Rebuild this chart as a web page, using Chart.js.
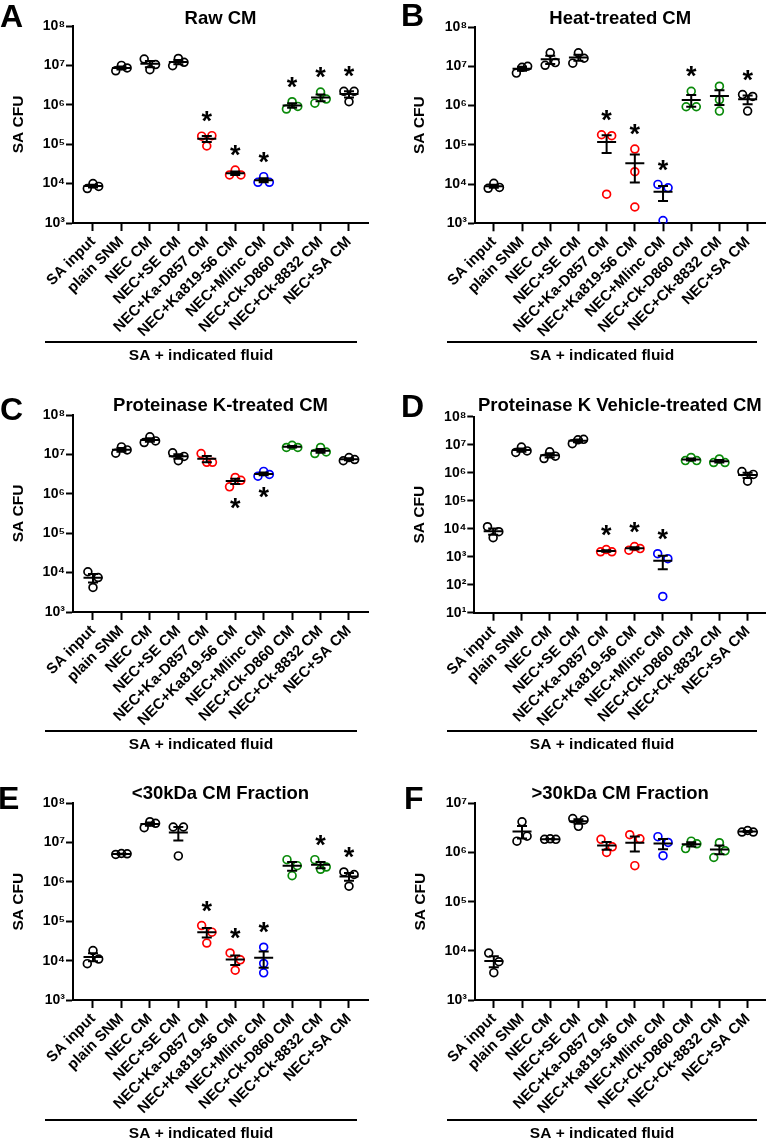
<!DOCTYPE html>
<html><head><meta charset="utf-8">
<script src="https://cdn.jsdelivr.net/npm/chart.js@4.4.1/dist/chart.umd.min.js"></script>
<style>
html,body{margin:0;padding:0;background:#fff;}
body{width:771px;height:1140px;position:relative;overflow:hidden;}
canvas{position:absolute;display:block;}
</style></head><body>
<canvas id="cA" width="385" height="389" style="left:0;top:0"></canvas>
<canvas id="cB" width="386" height="389" style="left:385px;top:0"></canvas>
<canvas id="cC" width="385" height="388" style="left:0;top:389px"></canvas>
<canvas id="cD" width="386" height="388" style="left:385px;top:389px"></canvas>
<canvas id="cE" width="385" height="363" style="left:0;top:777px"></canvas>
<canvas id="cF" width="386" height="363" style="left:385px;top:777px"></canvas>
<script>
// ---------------- DATA ----------------
const categories = ['SA input','plain SNM','NEC CM','NEC+SE CM','NEC+Ka-D857 CM','NEC+Ka819-56 CM','NEC+Mlinc CM','NEC+Ck-D860 CM','NEC+Ck-8832 CM','NEC+SA CM'];
const groupColors = ['black','black','black','black','red','red','blue','green','green','black'];
const xAxisTitle = 'SA + indicated fluid';
const yAxisTitle = 'SA CFU';

const ticks3to8 = [1e3,1e4,1e5,1e6,1e7,1e8];
const ticks1to8 = [1e1,1e2,1e3,1e4,1e5,1e6,1e7,1e8];
const ticks3to7 = [1e3,1e4,1e5,1e6,1e7];

const rawCM = [[7.5e3,1.0e4,8.5e3],[7.3e6,1.0e7,8.6e6],[1.45e7,7.8e6,1.05e7],[9.8e6,1.5e7,1.2e7],[1.6e5,9.0e4,1.65e5],[1.66e4,2.2e4,1.66e4],[1.08e4,1.5e4,1.08e4],[7.8e5,1.2e6,9.1e5],[1.1e6,2.1e6,1.4e6],[2.2e6,1.2e6,2.2e6]];
const rawStars = [0,0,0,0,1,1,1,1,1,1];

const heatCM = [[7.8e3,1.04e4,8.2e3],[6.7e6,9.4e6,1.0e7],[1.06e7,2.2e7,1.24e7],[1.2e7,2.2e7,1.6e7],[1.8e5,5.5e3,1.7e5],[7.8e4,2.06e4,2.6e3],[9.8e3,1.17e3,8.0e3],[9.3e5,2.3e6,9.3e5],[3.1e6,1.4e6,7.2e5],[1.9e6,7.2e5,1.7e6]];
const heatStars = [0,0,0,0,1,1,1,1,0,1];

const protKCM = [[1.05e4,4.2e3,7.5e3],[1.07e7,1.55e7,1.3e7],[2.0e7,2.8e7,2.2e7],[1.1e7,6.9e6,8.9e6],[1.05e7,6.3e6,6.3e6],[1.5e6,2.6e6,2.2e6],[2.8e6,3.7e6,3.1e6],[1.5e7,1.7e7,1.5e7],[1.05e7,1.5e7,1.15e7],[6.9e6,8.3e6,7.4e6]];
const protKStars = [0,0,0,0,0,-1,-1,0,0,0];

const vehicleCM = [[1.18e4,4.8e3,7.8e3],[5.3e6,8.2e6,6.0e6],[3.2e6,5.6e6,3.9e6],[1.09e7,1.5e7,1.55e7],[1.5e3,1.8e3,1.5e3],[1.7e3,2.3e3,1.95e3],[1.28e3,38,850],[2.7e6,3.5e6,2.7e6],[2.3e6,3.1e6,2.3e6],[1.1e6,5.0e5,8.7e5]];
const vehicleStars = [0,0,0,0,1,1,1,0,0,0];

const below30 = [[8.4e3,1.8e4,1.1e4],[5.0e6,5.3e6,5.2e6],[2.4e7,3.4e7,3.1e7],[2.5e7,4.6e6,2.5e7],[7.8e4,2.8e4,5.3e4],[1.57e4,1.05e4,5.7e3],[2.2e4,8.5e3,4.9e3],[3.7e6,1.45e6,2.6e6],[3.7e6,2.1e6,2.4e6],[1.8e6,7.8e5,1.55e6]];
const below30Stars = [0,0,0,0,1,1,1,0,1,1];

const above30 = [[9.0e3,6.0e3,3.6e3],[1.7e6,4.2e6,2.15e6],[1.85e6,1.9e6,1.85e6],[4.9e6,3.4e6,4.6e6],[1.85e6,1.0e6,1.3e6],[2.3e6,5.4e5,1.9e6],[2.1e6,8.6e5,1.6e6],[1.2e6,1.7e6,1.5e6],[7.9e5,1.58e6,1.08e6],[2.6e6,2.8e6,2.6e6]];
const above30Stars = [0,0,0,0,0,0,0,0,0,0];

// ---------------- RENDERING ----------------
const FONT = "'Liberation Sans', Arial, Helvetica, sans-serif";
const COLORS = {black:'#000000', red:'#ff0000', blue:'#0000ff', green:'#0a8a0a'};
const SUP = {'0':'\u2070','1':'\u00b9','2':'\u00b2','3':'\u00b3','4':'\u2074','5':'\u2075','6':'\u2076','7':'\u2077','8':'\u2078','9':'\u2079'};
function supLabel(v){ const e = Math.round(Math.log10(v)); return '10' + String(e).split('').map(c=>SUP[c]).join(''); }

function jitterOffsets(vals, pxPerDec){
  const n = vals.length, ys = vals.map(v=>Math.log10(v)*pxPerDec);
  const parent = vals.map((_,i)=>i);
  const find = i => parent[i]===i ? i : (parent[i]=find(parent[i]));
  for(let i=0;i<n;i++) for(let j=i+1;j<n;j++) if(Math.abs(ys[i]-ys[j])<9) parent[find(i)] = find(j);
  const groups = {};
  vals.forEach((_,i)=>{ const r=find(i); (groups[r]=groups[r]||[]).push(i); });
  const off = new Array(n).fill(0);
  Object.values(groups).forEach(g=>{
    const spread = g.length===2 ? [-0.18,0.18] : g.length===3 ? [-0.2,0,0.2] : [0];
    g.forEach((idx,k)=>{ off[idx] = spread[k]; });
  });
  return off;
}

const extrasPlugin = {
  id:'extras',
  afterDatasetsDraw(chart, args, o){
    const ctx = chart.ctx, xs = chart.scales.x, ys = chart.scales.y;
    ctx.save();
    ctx.strokeStyle = '#000'; ctx.lineWidth = 2; ctx.lineCap = 'butt';
    o.groups.forEach((vals,i)=>{
      const n = vals.length;
      const mean = vals.reduce((a,b)=>a+b,0)/n;
      const sd = Math.sqrt(vals.reduce((a,b)=>a+(b-mean)*(b-mean),0)/(n-1));
      const sem = sd/Math.sqrt(n);
      const px = xs.getPixelForValue(i);
      const pm = ys.getPixelForValue(mean);
      const pHi = ys.getPixelForValue(mean+sem);
      const pLo = (mean-sem)>0 ? ys.getPixelForValue(mean-sem) : ys.bottom;
      ctx.beginPath();
      ctx.moveTo(px-9.5,pm); ctx.lineTo(px+9.5,pm);
      ctx.moveTo(px,pHi); ctx.lineTo(px,pLo);
      ctx.moveTo(px-5,pHi); ctx.lineTo(px+5,pHi);
      ctx.moveTo(px-5,pLo); ctx.lineTo(px+5,pLo);
      ctx.stroke();
    });
    ctx.fillStyle = '#000';
    ctx.font = 'bold 27px ' + FONT;
    ctx.textAlign = 'center'; ctx.textBaseline = 'alphabetic';
    o.stars.forEach((s,i)=>{
      if(!s) return;
      const pys = o.groups[i].map(v=>ys.getPixelForValue(v));
      const cy = s>0 ? Math.min(...pys)-21 : Math.max(...pys)+15;
      ctx.fillText('*', xs.getPixelForValue(i), cy + 0.56*27);
    });
    ctx.restore();
  },
  afterDraw(chart, args, o){
    const ctx = chart.ctx;
    ctx.save();
    ctx.fillStyle = '#000';
    ctx.textAlign = 'left'; ctx.textBaseline = 'alphabetic';
    ctx.font = 'bold 32px ' + FONT;
    ctx.fillText(o.letter, o.letterX, o.letterY);
    ctx.strokeStyle = '#000'; ctx.lineWidth = 2;
    ctx.beginPath(); ctx.moveTo(o.brX1, o.brY); ctx.lineTo(o.brX2, o.brY); ctx.stroke();
    ctx.font = 'bold 15.5px ' + FONT;
    ctx.textAlign = 'center';
    ctx.fillText(xAxisTitle, (o.brX1+o.brX2)/2, o.brY + 18);
    ctx.restore();
  }
};
Chart.register(extrasPlugin);

function makePanel(cfg){
  const canvas = document.getElementById(cfg.id);
  const H = canvas.height;
  const decades = Math.log10(cfg.ticks[cfg.ticks.length-1]) - Math.log10(cfg.ticks[0]);
  const pxPerDec = (cfg.plotBottom - cfg.plotTop)/decades;
  const pts = [], cols = [];
  cfg.groups.forEach((vals,i)=>{
    const off = jitterOffsets(vals, pxPerDec);
    vals.forEach((v,j)=>{ pts.push({x:i+off[j], y:v}); cols.push(COLORS[groupColors[i]]); });
  });
  const titleCenter = cfg.titleCenter, titleSize = 18.5;
  const tPadTop = titleCenter - titleSize/2;
  const tPadBottom = cfg.plotTop - titleSize - tPadTop;
  const tickFontY = {family:FONT, size:14, weight:'bold'};
  new Chart(canvas, {
    type:'scatter',
    data:{datasets:[{data:pts, pointRadius:3.9, pointHoverRadius:3.9, pointBorderWidth:1.7, pointBorderColor:cols, pointBackgroundColor:'rgba(0,0,0,0)', showLine:false}]},
    options:{
      responsive:false, animation:false, events:[],
      layout:{padding:{top:0,left:0,right:cfg.padRight,bottom:0}},
      plugins:{
        legend:{display:false}, tooltip:{enabled:false},
        title:{display:true, text:cfg.title, fullSize:false, color:'#000',
          font:{family:FONT, size:titleSize, weight:'bold', lineHeight:1},
          padding:{top:tPadTop, bottom:tPadBottom}},
        extras:{groups:cfg.groups, stars:cfg.stars, letter:cfg.letter, letterX:cfg.letterX, letterY:cfg.letterY, brX1:cfg.brX1, brX2:cfg.brX2, brY:cfg.brY}
      },
      scales:{
        x:{type:'linear', bounds:'data', min:cfg.xmin, max:cfg.xmax,
          afterBuildTicks:s=>{ s.ticks = categories.map((_,i)=>({value:i})); },
          afterFit:s=>{ s.height = H - cfg.plotBottom; },
          grid:{display:true, drawOnChartArea:false, drawTicks:true, tickLength:8, tickWidth:2, tickColor:'#000'},
          border:{display:true, width:2, color:'#000'},
          ticks:{autoSkip:false, minRotation:45, maxRotation:45, padding:2, color:'#000',
            font:{family:FONT, size:15, weight:'bold'},
            callback:(v)=>categories[Math.round(v)]}
        },
        y:{type:'logarithmic', bounds:'data', min:cfg.ticks[0], max:cfg.ticks[cfg.ticks.length-1],
          afterBuildTicks:s=>{ s.ticks = cfg.ticks.map(v=>({value:v, major:false})); },
          afterFit:s=>{ s.width = cfg.yWidth; },
          grid:{display:true, drawOnChartArea:false, drawTicks:true, tickLength:7, tickWidth:2, tickColor:'#000'},
          border:{display:true, width:2, color:'#000'},
          ticks:{padding:1, color:'#000', font:tickFontY, autoSkip:false, callback:(v)=>supLabel(v)},
          title:{display:true, text:yAxisTitle, color:'#000', font:{family:FONT, size:15.5, weight:'bold', lineHeight:1.2}, padding:{top:cfg.yTitlePad, bottom:0}}
        }
      }
    }
  });
}

const leftCol = {padRight:17, xmin:-0.703, xmax:9.668, yWidth:73, brX1:45, brX2:357};
const rightCol = {padRight:2, xmin:-0.667, xmax:9.63, brX1:62, brX2:372};

makePanel(Object.assign({}, leftCol, {id:'cA', title:'Raw CM', groups:rawCM, stars:rawStars, ticks:ticks3to8,
  plotTop:26, plotBottom:223, titleCenter:19, letter:'A', letterX:0, letterY:27, yTitlePad:9, brY:342}));
makePanel(Object.assign({}, rightCol, {id:'cB', title:'Heat-treated CM', groups:heatCM, stars:heatStars, ticks:ticks3to8,
  plotTop:27, plotBottom:223.3, titleCenter:19, letter:'B', letterX:16, letterY:26, yWidth:90, yTitlePad:25.7, brY:342}));
makePanel(Object.assign({}, leftCol, {id:'cC', title:'Proteinase K-treated CM', groups:protKCM, stars:protKStars, ticks:ticks3to8,
  plotTop:26, plotBottom:223, titleCenter:17, letter:'C', letterX:0, letterY:31, yTitlePad:9.5, brY:342}));
makePanel(Object.assign({}, rightCol, {id:'cD', title:'Proteinase K Vehicle-treated CM', groups:vehicleCM, stars:vehicleStars, ticks:ticks1to8,
  plotTop:27.7, plotBottom:223.7, titleCenter:17, letter:'D', letterX:16, letterY:27.7, yWidth:89.3, yTitlePad:25.7, brY:342}));
makePanel(Object.assign({}, leftCol, {id:'cE', title:'<30kDa CM Fraction', groups:below30, stars:below30Stars, ticks:ticks3to8,
  plotTop:26.3, plotBottom:223, titleCenter:16.5, letter:'E', letterX:-2, letterY:32, yTitlePad:9.5, brY:343}));
makePanel(Object.assign({}, rightCol, {id:'cF', title:'>30kDa CM Fraction', groups:above30, stars:above30Stars, ticks:ticks3to7,
  plotTop:26.3, plotBottom:223, titleCenter:17, letter:'F', letterX:19, letterY:32, yWidth:90, yTitlePad:26.7, brY:343}));
</script>
</body></html>
